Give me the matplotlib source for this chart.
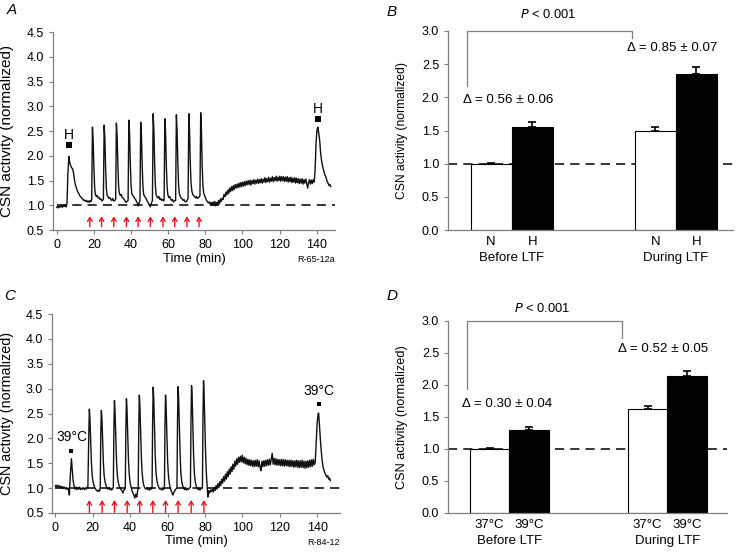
import matplotlib.pyplot as plt
import numpy as np

plt.rcParams['font.family'] = ['Liberation Sans', 'DejaVu Sans']
plt.rcParams['font.size'] = 9

# ---- panel A trace (time in min, normalized CSN activity)
a_time = [0, 0.5, 1, 1.5, 2, 2.5, 3, 3.5, 4, 4.5, 5, 5.5,
          6.0, 6.5, 7.0, 7.5, 8.0, 8.5, 9.0, 9.5, 10.0, 10.5, 11, 11.5, 12, 12.5, 13, 13.5, 14, 14.5,
          15, 15.5, 16, 16.5, 17, 17.5, 18, 18.5,
          18.8, 19.2, 19.6, 20.0, 20.4, 20.8, 21.3, 21.8, 22.3, 22.8, 23.3, 23.8, 24.3, 24.8,
          25.1, 25.5, 25.9, 26.3, 26.7, 27.1, 27.6, 28.1, 28.6, 29.1, 29.6, 30.1, 30.6, 31.2,
          31.7, 32.1, 32.5, 32.9, 33.3, 33.7, 34.2, 34.7, 35.2, 35.7, 36.2, 36.7, 37.2, 37.8,
          38.4, 38.8, 39.2, 39.6, 40.0, 40.4, 40.9, 41.4, 41.9, 42.4, 42.9, 43.4, 43.9, 44.4,
          44.8, 45.2, 45.6, 46.0, 46.4, 46.8, 47.3, 47.8, 48.3, 48.8, 49.3, 49.8, 50.3, 50.9,
          51.5, 51.9, 52.3, 52.7, 53.1, 53.5, 54.0, 54.5, 55.0, 55.5, 56.0, 56.5, 57.0, 57.6,
          57.8, 58.2, 58.6, 59.0, 59.4, 59.8, 60.3, 60.8, 61.3, 61.8, 62.3, 62.8, 63.3,
          64.0, 64.4, 64.8, 65.2, 65.6, 66.0, 66.5, 67.0, 67.5, 68.0, 68.5, 69.0, 69.5, 70.2,
          70.7, 71.1, 71.5, 71.9, 72.3, 72.7, 73.2, 73.7, 74.2, 74.7, 75.2, 75.7, 76.2, 76.7,
          77.1, 77.5, 77.9, 78.3, 78.7, 79.1, 79.6, 80.1, 80.6, 81.1, 81.6, 82.1, 82.6, 83.1,
          83.6, 84.1, 84.6, 85.1, 85.6, 86.1, 86.6, 87.1, 87.6, 88.1, 88.6, 89.1, 89.6, 90.1,
          90.6, 91.1, 91.6, 92.1, 92.6, 93.1, 93.6, 94.1, 94.6, 95.1, 95.6, 96.1, 96.6, 97.1,
          97.6, 98.1, 98.6, 99.1, 99.6, 100.1, 100.6, 101.1, 101.6, 102.1, 102.6, 103.1,
          103.6, 104.1, 104.6, 105.1, 105.6, 106.1, 106.6, 107.1, 107.6, 108.1, 108.6, 109.1,
          109.6, 110.1, 110.6, 111.1, 111.6, 112.1, 112.6, 113.1, 113.6, 114.1, 114.6, 115.1,
          115.6, 116.1, 116.6, 117.1, 117.6, 118.1, 118.6, 119.1, 119.6, 120.1, 120.6, 121.1,
          121.6, 122.1, 122.6, 123.1, 123.6, 124.1, 124.6, 125.1, 125.6, 126.1, 126.6, 127.1,
          127.6, 128.1, 128.6, 129.1, 129.6, 130.1, 130.6, 131.1, 131.6, 132.1, 132.6, 133.1,
          133.6, 134.1, 134.6, 135.1, 135.6, 136.1, 136.6, 137.1, 137.6, 138.1, 138.6,
          139.1, 139.6, 140.1, 140.6, 141.1, 141.6, 142.1, 142.6, 143.1, 143.6, 144.1, 144.6,
          145.1, 145.6, 146.1, 146.6, 147.1, 147.5]
a_csn = [0.96, 0.99, 0.95, 0.98, 0.97, 1.00, 0.96, 0.99, 0.98, 1.00, 0.97, 1.05,
         1.65, 1.99, 1.86, 1.80, 1.76, 1.74, 1.66, 1.52, 1.42, 1.36, 1.30, 1.26, 1.23, 1.19, 1.17, 1.14, 1.13, 1.10,
         1.11, 1.08, 1.10, 1.07, 1.09, 1.06, 1.10, 1.08,
         1.12, 2.58, 2.30, 1.75, 1.35, 1.22, 1.18, 1.20, 1.15, 1.16, 1.12, 1.13, 1.09, 1.11,
         1.12, 2.62, 2.35, 1.75, 1.35, 1.20, 1.18, 1.14, 1.16, 1.12, 1.10, 1.14, 1.09, 1.10,
         1.12, 2.66, 2.40, 1.80, 1.38, 1.25, 1.20, 1.22, 1.16, 1.15, 1.12, 1.10, 1.06, 1.08,
         1.10, 2.72, 2.45, 1.85, 1.40, 1.24, 1.20, 1.18, 1.14, 1.12, 1.08, 1.05, 0.99, 1.05,
         1.10, 2.68, 2.40, 1.80, 1.38, 1.22, 1.18, 1.16, 1.12, 1.08, 1.05, 1.02, 0.97, 1.04,
         1.10, 2.85, 2.50, 1.85, 1.40, 1.22, 1.17, 1.15, 1.18, 1.12, 1.14, 1.10, 1.12, 1.09,
         1.12, 2.75, 2.45, 1.80, 1.38, 1.22, 1.16, 1.18, 1.13, 1.10, 1.12, 1.07, 1.09,
         1.10, 2.83, 2.50, 1.85, 1.40, 1.24, 1.18, 1.15, 1.13, 1.10, 1.12, 1.08, 1.07, 1.10,
         1.14, 2.85, 2.50, 1.85, 1.45, 1.30, 1.22, 1.20, 1.18, 1.15, 1.18, 1.14, 1.16, 1.17,
         1.20, 2.87, 2.50, 1.80, 1.40, 1.25, 1.20, 1.15, 1.10, 1.08, 1.05, 1.07, 1.03, 1.06,
         1.00, 1.07, 1.01, 1.08, 0.99, 1.06, 1.02, 1.10, 1.03, 1.13, 1.08, 1.15, 1.12, 1.22,
         1.18, 1.27, 1.21, 1.31, 1.24, 1.35, 1.28, 1.38, 1.30, 1.40, 1.32, 1.42, 1.35, 1.43,
         1.36, 1.45, 1.37, 1.46, 1.38, 1.47, 1.39, 1.48, 1.40, 1.49, 1.42, 1.50,
         1.42, 1.51, 1.41, 1.50, 1.44, 1.52, 1.43, 1.51, 1.45, 1.53, 1.44, 1.52,
         1.46, 1.54, 1.45, 1.53, 1.47, 1.56, 1.46, 1.54, 1.48, 1.57, 1.47, 1.55,
         1.49, 1.58, 1.48, 1.56, 1.50, 1.59, 1.49, 1.57, 1.50, 1.59, 1.49, 1.58,
         1.50, 1.58, 1.48, 1.57, 1.49, 1.58, 1.47, 1.56, 1.48, 1.57, 1.46, 1.55,
         1.47, 1.56, 1.45, 1.55, 1.46, 1.54, 1.44, 1.53, 1.45, 1.54, 1.43, 1.52,
         1.45, 1.53, 1.44, 1.35, 1.46, 1.52, 1.43, 1.51, 1.44, 1.52, 1.47,
         1.70, 2.25, 2.52, 2.58, 2.45, 2.30, 2.05, 1.90, 1.80, 1.72, 1.65, 1.60,
         1.55, 1.48, 1.45, 1.40, 1.42, 1.38]

# ---- panel C trace
c_time = [0, 0.5, 1, 1.5, 2, 2.5, 3, 3.5, 4, 4.5, 5, 5.5, 6, 6.5, 7, 7.5,
          8.0, 8.6, 9.0, 9.5, 10.0, 10.5, 11, 11.5, 12, 12.5, 13, 13.5, 14, 14.5, 15, 15.5, 16, 16.5, 17,
          17.4, 17.9, 18.2, 18.5, 18.9, 19.3, 19.7, 20.2, 20.7, 21.2, 21.7, 22.2, 22.7, 23.2, 23.7,
          24.0, 24.3, 24.6, 24.9, 25.3, 25.7, 26.1, 26.6, 27.1, 27.6, 28.1, 28.6, 29.1, 29.6, 30.1, 30.6,
          31.0, 31.3, 31.6, 31.9, 32.3, 32.7, 33.1, 33.6, 34.1, 34.6, 35.1, 35.6, 36.1, 36.6, 37.1,
          37.4, 37.7, 38.0, 38.3, 38.7, 39.1, 39.5, 40.0, 40.5, 41.0, 41.5, 42.0, 42.5, 43.0, 43.5, 44.0,
          44.3, 44.6, 44.9, 45.2, 45.6, 46.0, 46.4, 46.9, 47.4, 47.9, 48.4, 48.9, 49.4, 49.9, 50.4, 50.9, 51.4,
          51.7, 52.0, 52.3, 52.6, 53.0, 53.4, 53.8, 54.3, 54.8, 55.3, 55.8, 56.3, 56.8, 57.3, 57.8,
          58.3, 58.6, 58.9, 59.2, 59.6, 60.0, 60.4, 60.9, 61.4, 61.9, 62.4, 62.9, 63.4, 63.9, 64.4,
          65.0, 65.3, 65.6, 65.9, 66.3, 66.7, 67.1, 67.6, 68.1, 68.6, 69.1, 69.6, 70.1, 70.6, 71.1, 71.6,
          72.2, 72.5, 72.8, 73.1, 73.5, 73.9, 74.3, 74.8, 75.3, 75.8, 76.3, 76.8, 77.3, 77.8,
          78.6, 78.9, 79.2, 79.5, 79.9, 80.3, 80.7, 81.1, 81.5, 81.9, 82.4, 82.9, 83.4, 83.9,
          84.4, 84.9, 85.4, 85.9, 86.4, 86.9, 87.4, 87.9, 88.4, 88.9, 89.4, 89.9, 90.4, 90.9,
          91.4, 91.9, 92.4, 92.9, 93.4, 93.9, 94.4, 94.9, 95.4, 95.9, 96.4, 96.9, 97.4, 97.9,
          98.4, 98.9, 99.4, 99.9, 100.4, 100.9, 101.4, 101.9, 102.4, 102.9, 103.4, 103.9,
          104.4, 104.9, 105.4, 105.9, 106.4, 106.9, 107.4, 107.9, 108.4, 108.9, 109.4, 109.9,
          110.4, 110.9, 111.4, 111.9, 112.4, 112.9, 113.4, 113.9, 114.4, 114.9, 115.4, 115.9,
          116.4, 116.9, 117.4, 117.9, 118.4, 118.9, 119.4, 119.9, 120.4, 120.9, 121.4, 121.9,
          122.4, 122.9, 123.4, 123.9, 124.4, 124.9, 125.4, 125.9, 126.4, 126.9, 127.4, 127.9,
          128.4, 128.9, 129.4, 129.9, 130.4, 130.9, 131.4, 131.9, 132.4, 132.9, 133.4, 133.9,
          134.4, 134.9, 135.4, 135.9, 136.4, 136.9, 137.4, 137.9, 138.4,
          138.9, 139.4, 139.9, 140.4, 140.7, 141.1, 141.6, 142.1, 142.6, 143.1, 143.6, 144.1,
          144.6, 145.1, 145.6, 146.1, 146.6, 147.0]
c_csn = [1.05, 1.02, 1.06, 1.03, 1.05, 1.01, 1.04, 1.00, 1.03, 0.99, 1.02, 0.98, 1.01, 0.97, 1.00, 0.86,
         1.25, 1.59, 1.40, 1.15, 1.05, 0.98, 1.02, 0.97, 1.01, 0.98, 1.02, 0.97, 1.00, 0.98, 1.01, 0.97, 1.00, 0.98, 1.02,
         1.02, 2.10, 2.59, 2.40, 1.95, 1.50, 1.25, 1.12, 1.05, 1.00, 0.97, 0.95, 0.93, 0.96, 0.94,
         1.00, 2.10, 2.56, 2.40, 1.95, 1.50, 1.25, 1.12, 1.05, 1.00, 0.98, 1.01, 0.97, 1.00, 0.96, 0.99,
         1.02, 2.20, 2.76, 2.55, 2.05, 1.55, 1.28, 1.12, 1.05, 1.00, 0.97, 0.95, 0.90, 0.96, 0.98,
         1.00, 2.20, 2.80, 2.60, 2.05, 1.55, 1.28, 1.10, 1.02, 0.95, 0.90, 0.85, 0.80, 0.88, 0.82, 0.95,
         1.00, 2.25, 2.87, 2.65, 2.10, 1.60, 1.30, 1.12, 1.04, 1.00, 0.98, 1.01, 0.97, 0.99, 0.96, 1.00, 0.98,
         1.02, 2.35, 3.03, 2.80, 2.20, 1.65, 1.32, 1.15, 1.06, 1.02, 0.98, 1.00, 0.96, 0.99, 0.97,
         1.00, 2.25, 2.87, 2.65, 2.10, 1.55, 1.28, 1.10, 1.00, 0.95, 0.90, 0.86, 0.92, 0.95, 0.98,
         1.00, 2.35, 3.04, 2.80, 2.20, 1.65, 1.30, 1.12, 1.04, 1.00, 0.97, 1.00, 0.96, 0.99, 0.97, 1.00,
         1.02, 2.35, 3.06, 2.85, 2.25, 1.65, 1.30, 1.12, 1.04, 1.00, 0.97, 1.00, 0.96, 0.99,
         1.00, 2.40, 3.16, 2.90, 2.30, 1.70, 1.30, 1.05, 0.82, 0.95, 0.90, 0.96, 0.93, 0.98,
         0.92, 1.01, 0.95, 1.05, 0.98, 1.09, 1.01, 1.13, 1.05, 1.18, 1.10, 1.23, 1.14, 1.28,
         1.18, 1.33, 1.23, 1.38, 1.28, 1.43, 1.33, 1.48, 1.38, 1.54, 1.44, 1.59, 1.48, 1.62,
         1.52, 1.64, 1.53, 1.66, 1.51, 1.62, 1.49, 1.60, 1.47, 1.58, 1.46, 1.57,
         1.45, 1.56, 1.44, 1.55, 1.43, 1.56, 1.44, 1.57, 1.43, 1.55, 1.42, 1.35,
         1.54, 1.43, 1.55, 1.44, 1.56, 1.45, 1.57, 1.46, 1.58, 1.47, 1.59, 1.70,
         1.48, 1.60, 1.47, 1.59, 1.46, 1.58, 1.46, 1.57, 1.45, 1.58, 1.45, 1.57,
         1.44, 1.57, 1.45, 1.56, 1.44, 1.56, 1.43, 1.56, 1.44, 1.55, 1.42, 1.55,
         1.43, 1.56, 1.42, 1.55, 1.41, 1.55, 1.42, 1.56, 1.41, 1.54, 1.40, 1.54,
         1.41, 1.55, 1.42, 1.56, 1.43, 1.57, 1.44, 1.58, 1.47,
         1.52, 1.90, 2.30, 2.48, 2.51, 2.30, 2.00, 1.75, 1.55, 1.42, 1.35, 1.30,
         1.26, 1.22, 1.25, 1.18, 1.20, 1.15]

a_arrows = [17.8, 24.1, 30.7, 37.5, 43.8, 50.4, 57.2, 63.5, 70.1, 76.6]
c_arrows = [18.2, 25.0, 31.6, 38.4, 45.1, 52.1, 58.9, 65.6, 72.6, 79.4]

# ---- bar panels
b_groups = ['Before LTF', 'During LTF']
b_conds = ['N', 'H', 'N', 'H']
b_means = [1.00, 1.56, 1.50, 2.35]
b_errs = [0.01, 0.07, 0.06, 0.11]
b_deltas = ['Δ = 0.56 ± 0.06', 'Δ = 0.85 ± 0.07']

d_conds = ['37°C', '39°C', '37°C', '39°C']
d_means = [1.00, 1.30, 1.62, 2.14]
d_errs = [0.01, 0.04, 0.05, 0.08]
d_deltas = ['Δ = 0.30 ± 0.04', 'Δ = 0.52 ± 0.05']

bar_pos = [1, 2, 5, 6]
grey = '#7f7f7f'

fig = plt.figure(figsize=(7.37, 5.52), dpi=100)
axA = fig.add_axes([0.072, 0.583, 0.383, 0.359])
axB = fig.add_axes([0.608, 0.583, 0.387, 0.361])
axC = fig.add_axes([0.071, 0.0707, 0.39, 0.3603])
axD = fig.add_axes([0.608, 0.0707, 0.378, 0.3478])


def style(ax, lab_size, lab_x):
    for s in ['top', 'right']:
        ax.spines[s].set_visible(False)
    for s in ['left', 'bottom']:
        ax.spines[s].set_color(grey)
        ax.spines[s].set_linewidth(0.9)
    ax.tick_params(colors=grey, labelcolor='black', labelsize=9, length=3, width=0.8)
    ax.set_ylabel('CSN activity (normalized)', fontsize=lab_size)
    ax.yaxis.set_label_coords(lab_x, 0.5)


def trace_panel(ax, t, v, arrows, arrow_y, xlim, marks, code, lab_size, lab_x):
    ax.plot(t, v, color='#111111', lw=1.0)
    ax.plot([0, xlim[1]], [1, 1], color='black', lw=1.1, ls=(0, (6, 4)))
    for x in arrows:
        ax.annotate('', xy=(x, arrow_y[1]), xytext=(x, arrow_y[0]),
                    arrowprops=dict(arrowstyle='->,head_length=0.3,head_width=0.18',
                                    color='#e8141e', lw=1, shrinkA=0, shrinkB=0))
    for (mx, my, txt, ty, ms) in marks:
        ax.plot(mx, my, marker='s', color='black', ms=ms, mew=0)
        ax.text(mx, ty, txt, ha='center', va='center', fontsize=10)
    ax.set_xlim(*xlim)
    ax.set_ylim(0.5, 4.5)
    ax.set_xticks(np.arange(0, 141, 20))
    ax.set_yticks(np.arange(0.5, 4.51, 0.5))
    ax.yaxis.set_major_formatter(plt.FormatStrFormatter('%.1f'))
    style(ax, lab_size, lab_x)
    ax.set_xlabel('Time (min)', fontsize=9.5, labelpad=1)
    ax.text(1.0, -0.15, code, transform=ax.transAxes, fontsize=6.5, ha='right', va='center')


trace_panel(axA, a_time, a_csn, a_arrows, (0.57, 0.78), (-2, 150),
            [(6.5, 2.21, 'H', 2.42, 4), (140.5, 2.75, 'H', 2.95, 4)], 'R-65-12a', 11, -0.14)
trace_panel(axC, c_time, c_csn, c_arrows, (0.51, 0.76), (-1.6, 152),
            [(8.6, 1.75, '39°C', 2.03, 3), (140.7, 2.69, '39°C', 2.95, 3)], 'R-84-12', 10.4, -0.134)


def bar_panel(ax, means, errs, conds, deltas, xlim, bracket, ptxt, dpos, lab_size, lab_x):
    colors = ['white', 'black', 'white', 'black']
    ax.bar(bar_pos, means, width=1.0, color=colors, edgecolor='black', linewidth=0.8, zorder=2)
    ax.errorbar(bar_pos, means, yerr=[[0] * 4, errs], fmt='none', ecolor='black',
                elinewidth=1.2, capsize=3, capthick=1.2, zorder=3)
    ax.plot([xlim[0], xlim[1]], [1, 1], color='black', lw=1.1, ls=(0, (6, 4)), zorder=1)
    x0, y0, x1, y1 = bracket
    ax.plot([x0, x0, x1, x1], [y0, 3.0, 3.0, y1], color=grey, lw=0.9, clip_on=False)
    ax.text((x0 + x1) / 2 - 0.05, ptxt, r'$\mathit{P}$ < 0.001', ha='center', va='center', fontsize=9.3)
    for (dx, dy), d in zip(dpos, deltas):
        ax.text(dx, dy, d, ha='center', va='center', fontsize=9.6)
    ax.set_xlim(*xlim)
    ax.set_ylim(0, 3.0)
    ax.set_yticks(np.arange(0, 3.01, 0.5))
    ax.yaxis.set_major_formatter(plt.FormatStrFormatter('%.1f'))
    ax.set_xticks(bar_pos)
    ax.set_xticklabels(conds)
    style(ax, lab_size, lab_x)
    ax.tick_params(axis='x', length=0, pad=4, labelsize=9.5)
    for gx, g in zip([1.5, 5.5], b_groups):
        ax.annotate(g, xy=(gx, 0), xycoords=('data', 'axes fraction'),
                    xytext=(0, -20), textcoords='offset points', ha='center', va='center',
                    fontsize=9.5)


bar_panel(axB, b_means, b_errs, b_conds, b_deltas, (-0.05, 6.9),
          (0.41, 2.17, 4.44, 2.89), 3.24, [(1.41, 1.96), (5.41, 2.74)], 8.7, -0.14)
bar_panel(axD, d_means, d_errs, d_conds, d_deltas, (-0.05, 7.0),
          (0.43, 1.94, 4.35, 2.73), 3.19, [(1.44, 1.70), (5.39, 2.56)], 9.2, -0.143)

for lab, (x, y) in zip('ABCD', [(0.009, 0.981), (0.525, 0.978), (0.005, 0.463), (0.525, 0.463)]):
    fig.text(x, y, lab, fontsize=11, style='italic', va='center', ha='left')

fig.savefig('out.png', dpi=100)
